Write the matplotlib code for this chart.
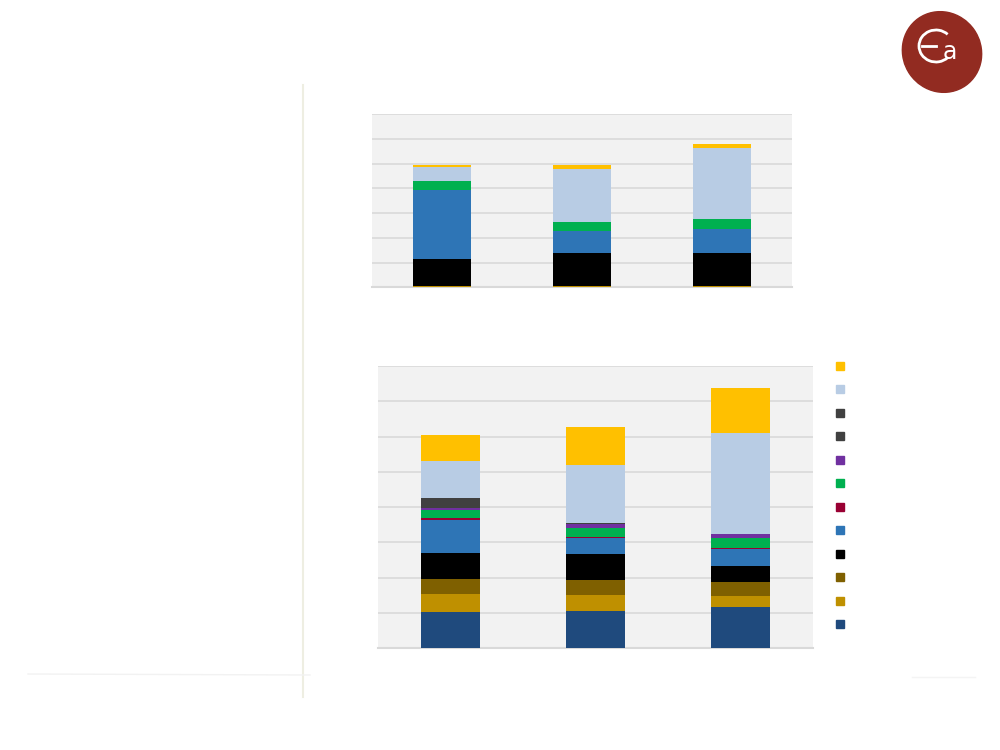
import numpy as np
import matplotlib
matplotlib.use('Agg')
import matplotlib.pyplot as plt
from matplotlib.patches import Ellipse, Arc

# three categories, no labels shown in the reference
cats = [0, 1, 2]

# top chart, stacked from the bottom (gridline units)
top_gold = [0.05, 0.05, 0.05]
top_black = [1.09, 1.34, 1.34]
top_blue = [2.81, 0.89, 0.97]
top_green = [0.35, 0.36, 0.40]
top_lightblue = [0.55, 2.14, 2.89]
top_yellow = [0.09, 0.16, 0.16]

# bottom chart, 12 series stacked from the bottom
bot_navy = [1.03, 1.06, 1.17]
bot_gold = [0.51, 0.45, 0.31]
bot_brown = [0.43, 0.43, 0.40]
bot_black = [0.74, 0.74, 0.45]
bot_blue = [0.93, 0.45, 0.48]
bot_crimson = [0.06, 0.03, 0.03]
bot_green = [0.21, 0.26, 0.28]
bot_purple = [0.08, 0.11, 0.11]
bot_gray1 = [0.26, 0.03, 0.0]
bot_gray2 = [0.0, 0.0, 0.0]
bot_lightblue = [1.05, 1.64, 2.86]
bot_yellow = [0.74, 1.08, 1.28]

colors = {
    'navy': '#1F4A7D', 'gold': '#BF9000', 'brown': '#7F6000', 'black': '#000000',
    'blue': '#2E75B6', 'crimson': '#990033', 'green': '#00B050', 'purple': '#7030A0',
    'gray1': '#404040', 'gray2': '#404040', 'lightblue': '#B8CCE4', 'yellow': '#FFC000',
}

top_series = [('gold', top_gold), ('black', top_black), ('blue', top_blue),
              ('green', top_green), ('lightblue', top_lightblue), ('yellow', top_yellow)]
bot_series = [('navy', bot_navy), ('gold', bot_gold), ('brown', bot_brown),
              ('black', bot_black), ('blue', bot_blue), ('crimson', bot_crimson),
              ('green', bot_green), ('purple', bot_purple), ('gray1', bot_gray1),
              ('gray2', bot_gray2), ('lightblue', bot_lightblue), ('yellow', bot_yellow)]


def stacked(ax, series, ymax, width):
    ax.set_facecolor('#F2F2F2')
    bottom = np.zeros(len(cats))
    for name, vals in series:
        ax.bar(cats, vals, width, bottom=bottom, color=colors[name], zorder=3)
        bottom += np.array(vals)
    ax.set_xlim(-0.5, 2.5)
    ax.set_ylim(0, ymax)
    ax.set_yticks(np.arange(0, ymax + 1))
    ax.grid(axis='y', color='#D9D9D9', lw=1.2, zorder=0)
    ax.tick_params(left=False, bottom=False, labelleft=False, labelbottom=False)
    for s in ['top', 'left', 'right']:
        ax.spines[s].set_visible(False)
    ax.spines['bottom'].set_color('#D9D9D9')
    ax.spines['bottom'].set_linewidth(1.5)


fig = plt.figure(figsize=(10, 7.5), dpi=100)

ax1 = fig.add_axes([0.372, 0.6169, 0.42, 0.2307])
stacked(ax1, top_series, 7, 0.41)

ax2 = fig.add_axes([0.378, 0.1356, 0.4347, 0.3764])
stacked(ax2, bot_series, 8, 0.407)

# legend squares (no text in the reference)
axl = fig.add_axes([0.83, 0.168, 0.02, 0.344])
legend_order = [name for name, _ in bot_series]
for i, name in enumerate(legend_order):
    axl.plot(0, i, 's', color=colors[name], markersize=5.8, clip_on=False)
axl.set_xlim(-1, 1)
axl.set_ylim(0, 11)
axl.axis('off')

# page decoration and logo
deco = fig.add_axes([0, 0, 1, 1])
deco.set_xlim(0, 1000)
deco.set_ylim(750, 0)
deco.axis('off')
deco.plot([303, 303], [85, 697], color='#EEEEE2', lw=1.5)
deco.plot([28, 310], [674, 675], color='#F2F2F2', lw=1)
deco.plot([912, 975], [677, 677], color='#F4F4F4', lw=1)

deco.add_patch(Ellipse((942, 52), 78, 82, angle=-35, color='#922B21'))
deco.add_patch(Arc((936, 46), 34, 32, theta1=45, theta2=315, color='white', lw=2))
deco.plot([922, 936], [46, 46], color='white', lw=2)
deco.text(950, 52, 'a', color='white', fontsize=17, ha='center', va='center')

fig.savefig('out.png', dpi=100)
